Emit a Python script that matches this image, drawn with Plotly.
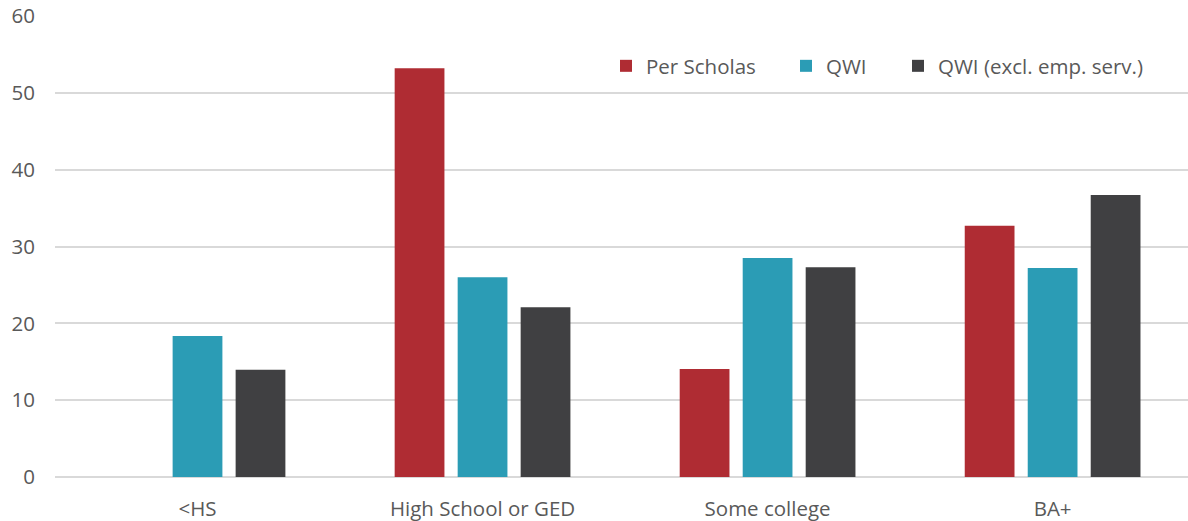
import plotly.graph_objects as go

categories = ["<HS", "High School or GED", "Some college", "BA+"]
per_scholas = [None, 53.2, 14.05, 32.7]
qwi = [18.35, 26.0, 28.5, 27.2]
qwi_excl = [13.95, 22.1, 27.3, 36.7]
series_names = ["Per Scholas", "QWI", "QWI (excl. emp. serv.)"]
colors = ["#AF2C33", "#2B9CB5", "#404042"]
y_ticks = [0, 10, 20, 30, 40, 50, 60]

W, H = 1188, 521
ML, MR, MT, MB = 55, 0, 16, 44
font = "Open Sans"
fc = "#595959"
fs = 20.5

fig = go.Figure()
legend_ids = ["legend", "legend2", "legend3"]
for name, vals, col, lid in zip(series_names, [per_scholas, qwi, qwi_excl], colors, legend_ids):
    fig.add_trace(go.Bar(x=categories, y=vals, name=name, marker_color=col,
                         marker_line_width=0, legend=lid, showlegend=True))

pw = W - ML - MR
def px2paper(x):
    return (x - ML) / pw

leg_x = [606, 786, 898]
leg_common = dict(orientation="h", yanchor="middle", xanchor="left",
                  font=dict(family=font, size=fs, color=fc),
                  bgcolor="rgba(0,0,0,0)", borderwidth=0)
layout_legs = {}
for lid, lx in zip(legend_ids, leg_x):
    layout_legs[lid] = dict(x=px2paper(lx), y=(H - MB - 66) / (H - MT - MB), **leg_common)

fig.update_layout(
    width=W, height=H,
    margin=dict(l=ML, r=MR, t=MT, b=MB),
    paper_bgcolor="white", plot_bgcolor="white",
    barmode="group", bargap=0.337, bargroupgap=0.21,
    font=dict(family=font, size=fs, color=fc),
    xaxis=dict(range=[-0.5, 3.475], showgrid=False, showline=False, ticks="",
               tickfont=dict(family=font, size=fs, color=fc), ticklabelstandoff=17,
               zeroline=False),
    yaxis=dict(range=[0, 60], tickvals=y_ticks, showgrid=True, gridcolor="#D9D9D9",
               gridwidth=1.5, zeroline=True, zerolinecolor="#D9D9D9", zerolinewidth=1.5,
               showline=False, ticks="", ticklabelstandoff=19,
               tickfont=dict(family=font, size=fs, color=fc)),
    **layout_legs,
)

fig.write_html("out.html")
